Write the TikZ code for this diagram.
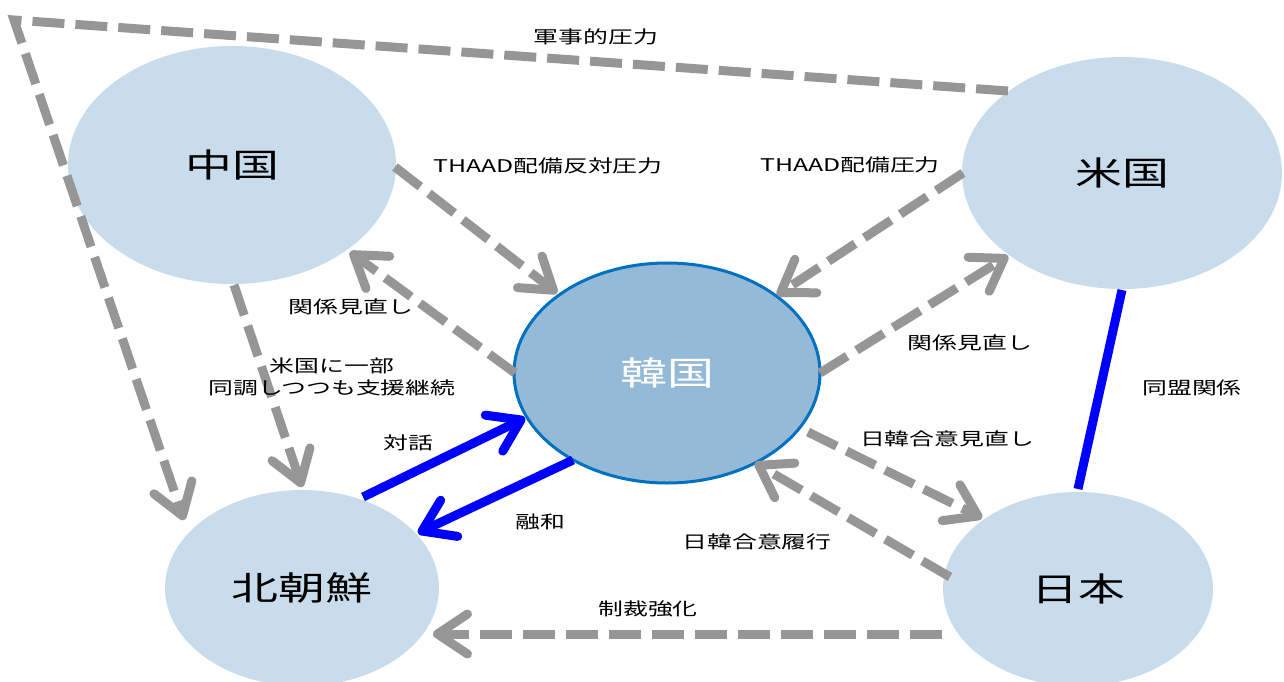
\documentclass[tikz,border=0pt]{standalone}
\usepackage{fontspec}
\newfontfamily\jp[FakeStretch=1.42]{Noto Sans CJK JP}
\usetikzlibrary{shapes.geometric,arrows.meta,calc}
\definecolor{dgray}{RGB}{150,150,150}
\definecolor{lblue}{RGB}{200,220,235}
\definecolor{kblue}{RGB}{148,186,215}
\definecolor{kedge}{RGB}{0,112,192}
\definecolor{pblue}{RGB}{0,0,255}
\begin{document}
\begin{tikzpicture}[x=1pt,y=-1pt,
  country/.style={ellipse, fill=lblue, inner sep=0pt, font=\jp\fontsize{33}{40}\selectfont},
  lab/.style={inner sep=0pt, font=\jp\fontsize{17.5}{22}\selectfont, align=center},
  gdash/.style={draw=dgray, line width=9pt, dash pattern=on 32pt off 11pt},
  garrow/.style={gdash, -{Straight Barb[round, length=30pt, width=40pt]}},
  bline/.style={draw=pblue, line width=9pt},
  barrow/.style={bline, -{Straight Barb[round, length=30pt, width=40pt]}}]
\useasboundingbox (0,0) rectangle (1284,682);
% countries
\node[country, minimum width=328pt, minimum height=238pt] (cn) at (232,165) {中国};
\node[country, minimum width=320pt, minimum height=232pt] (us) at (1122,173) {米国};
\node[country, minimum width=274pt, minimum height=196pt] (nk) at (302,588) {北朝鮮};
\node[country, minimum width=270pt, minimum height=194pt] (jp) at (1078,589) {日本};
\node[ellipse, fill=kblue, draw=kedge, line width=3pt, inner sep=0pt,
  minimum width=306pt, minimum height=220pt, text=white,
  font=\jp\fontsize{33}{40}\selectfont] (kr) at (667,373) {韓国};
% military pressure
\coordinate (corner) at (14,20);
\draw[garrow] ($(us)+(-114,-82)$) -- (corner) -- ($(nk)+(-118,-68)$);
% other connectors
\draw[garrow] ($(cn)+(163,2)$) -- ($(kr)+(-110,-80)$);
\draw[garrow] ($(us)+(-159,0)$) -- ($(kr)+(110,-78)$);
\draw[garrow] ($(kr)+(153,0)$) -- ($(us)+(-114,83)$);
\draw[garrow] ($(kr)+(-152,0)$) -- ($(cn)+(118,87)$);
\draw[garrow] ($(cn)+(2,120)$) -- ($(nk)+(0,-101)$);
\draw[barrow] ($(nk)+(61,-91)$) -- ($(kr)+(-142,45)$);
\draw[barrow] ($(kr)+(-94,87)$) -- ($(nk)+(116,-55)$);
\draw[garrow] ($(kr)+(141,59)$) -- ($(jp)+(-96,-71)$);
\draw[garrow] ($(jp)+(-128,-12)$) -- ($(kr)+(88,90)$);
\draw[garrow] ($(jp)+(-136,45)$) -- ($(nk)+(131,46)$);
\draw[bline] ($(us)+(0,117)$) -- ($(jp)+(0,-100)$);
% labels
\node[lab] (l1) at (596,37) {軍事的圧力};
\node[lab] (l2) at (548,166) {THAAD配備反対圧力};
\node[lab] (l3) at (850,165) {THAAD配備圧力};
\node[lab] (l4) at (970,343) {関係見直し};
\node[lab] (l5) at (351,307) {関係見直し};
\node[lab] (l6) at (332,377) {米国に一部\\同調しつつも支援継続};
\node[lab] (l7) at (408,443) {対話};
\node[lab] (l8) at (540,522) {融和};
\node[lab] (l9) at (947,439) {日韓合意見直し};
\node[lab] (l10) at (757,542) {日韓合意履行};
\node[lab] (l11) at (648,609) {制裁強化};
\node[lab] (l12) at (1192,388) {同盟関係};
\end{tikzpicture}
\end{document}
